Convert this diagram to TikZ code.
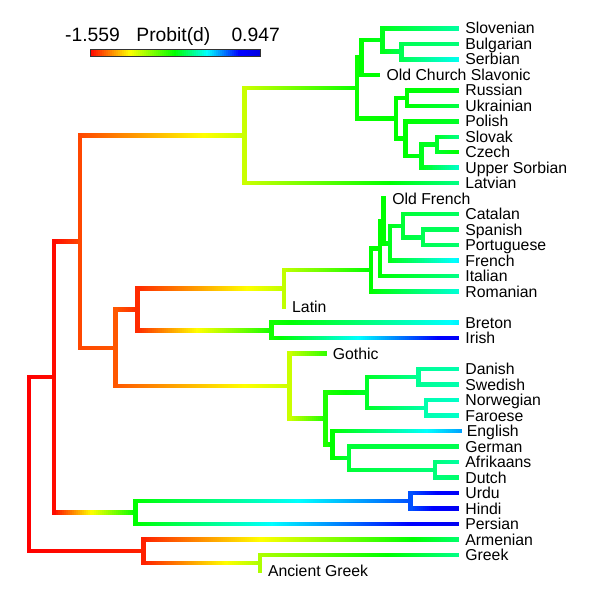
\documentclass[tikz,border=0pt]{standalone}
\usepackage{fontspec}
\setmainfont{Liberation Sans}
\newcommand{\setcmap}[1]{%
  \pgfmathsetmacro\cmv{max(0,min(1,#1))}%
  \pgfmathsetmacro\cmR{\cmv<0.235 ? 1 : (\cmv<0.5 ? (0.5-\cmv)/0.265 : 0)}%
  \pgfmathsetmacro\cmG{\cmv<0.235 ? \cmv/0.235 : (\cmv<0.69 ? 1 : (\cmv<0.88 ? (0.88-\cmv)/0.19 : 0))}%
  \pgfmathsetmacro\cmB{\cmv<0.5 ? 0 : (\cmv<0.69 ? (\cmv-0.5)/0.19 : (\cmv<0.9 ? 1 : 1-(\cmv-0.9)*1.2))}%
  \definecolor{segc}{rgb}{\cmR,\cmG,\cmB}%
}
\newcommand{\treenode}[4]{\coordinate (#1) at (#2,#3);\expandafter\gdef\csname nodev@#1\endcsname{#4}}
\newcommand{\leafnode}[6]{\treenode{#1}{#2}{#3}{#4}%
  \node[lab] (t-#1) at ([xshift=#6pt,yshift=-5.4pt]#1) {#5};}
\newcommand{\branch}[2]{%
  \pgfpointanchor{#1}{center}\pgfgetlastxy{\bpx}{\bpy}%
  \pgfpointanchor{#2}{center}\pgfgetlastxy{\bcx}{\bcy}%
  \edef\bva{\csname nodev@#1\endcsname}%
  \edef\bvb{\csname nodev@#2\endcsname}%
  \pgfmathsetmacro\blen{\bcx-\bpx}%
  \ifdim\blen pt>0.5pt
    \pgfmathtruncatemacro\bn{max(1,round(\blen/2))}%
    \pgfmathsetmacro\bdx{\blen/\bn}%
    \foreach \k in {1,...,\bn}{%
      \pgfmathsetmacro\xa{\bpx+(\k-1)*\bdx}%
      \pgfmathsetmacro\xb{min(\bpx+\k*\bdx+0.5,\bcx)}%
      \pgfmathsetmacro\vv{\bva+(\bvb-\bva)*(\k-0.5)/\bn}%
      \setcmap{\vv}%
      \draw[seg, draw=segc] (\xa pt,\bcy) -- (\xb pt,\bcy);
    }%
  \fi
}
\newcommand{\vbranch}[3]{%
  \edef\vvv{\csname nodev@#1\endcsname}%
  \setcmap{\vvv}%
  \draw[vseg, draw=segc] (#1 |- #2) -- (#1 |- #3);
}
\newcommand{\clade}[3]{\branch{#1}{#2}\branch{#1}{#3}\vbranch{#1}{#2}{#3}}
\tikzset{
  seg/.style={line width=4.5pt, line cap=butt},
  vseg/.style={line width=4.5pt, line cap=rect},
  lab/.style={anchor=base west, inner sep=0pt, font=\fontsize{15.8}{18}\selectfont},
  hdr/.style={anchor=base west, inner sep=0pt, font=\fontsize{19.3}{22}\selectfont},
}
\begin{document}
\begin{tikzpicture}[x=1pt,y=-1pt]
\useasboundingbox (0,0) rectangle (600,600);
\fill[white] (0,0) rectangle (600,600);
% leaves
\leafnode{slov}{459}{28.3}{.62}{Slovenian}{6.2}
\leafnode{bulg}{459}{43.8}{.59}{Bulgarian}{6.2}
\leafnode{serb}{459}{59.3}{.68}{Serbian}{6.2}
\leafnode{ocs}{380}{74.8}{.5}{Old Church Slavonic}{6.4}
\leafnode{russ}{459}{90.3}{.52}{Russian}{6.2}
\leafnode{ukr}{459}{105.8}{.55}{Ukrainian}{6.2}
\leafnode{pol}{459}{121.3}{.53}{Polish}{6.2}
\leafnode{slk}{459}{136.8}{.6}{Slovak}{6.2}
\leafnode{cze}{459}{152.2}{.5}{Czech}{6.2}
\leafnode{usorb}{459}{167.7}{.65}{Upper Sorbian}{6.2}
\leafnode{latv}{459}{183.2}{.6}{Latvian}{6.2}
\leafnode{ofr}{383.5}{198.7}{.5}{Old French}{8.6}
\leafnode{cat}{459}{214.2}{.57}{Catalan}{6.2}
\leafnode{spa}{459}{229.7}{.57}{Spanish}{6.2}
\leafnode{por}{459}{245.2}{.58}{Portuguese}{6.2}
\leafnode{fre}{459}{260.7}{.7}{French}{6.2}
\leafnode{ita}{459}{276.2}{.6}{Italian}{6.2}
\leafnode{rom}{459}{291.7}{.66}{Romanian}{6.2}
\leafnode{lat}{284.2}{307.2}{.3}{Latin}{7.8}
\leafnode{bre}{459}{322.7}{.7}{Breton}{6.2}
\leafnode{iri}{459}{338.2}{.93}{Irish}{6.2}
\leafnode{got}{326.7}{353.6}{.45}{Gothic}{6.0}
\leafnode{dan}{459}{369.1}{.63}{Danish}{6.2}
\leafnode{swe}{459}{384.6}{.63}{Swedish}{6.2}
\leafnode{nor}{459}{400.1}{.65}{Norwegian}{6.2}
\leafnode{far}{459}{415.6}{.65}{Faroese}{6.2}
\leafnode{eng}{461.5}{431.1}{.76}{English}{5.2}
\leafnode{ger}{459}{446.6}{.56}{German}{6.2}
\leafnode{afr}{459}{462.1}{.62}{Afrikaans}{6.2}
\leafnode{dut}{459}{477.6}{.58}{Dutch}{6.2}
\leafnode{urd}{459}{493.1}{.93}{Urdu}{6.2}
\leafnode{hin}{459}{508.6}{.95}{Hindi}{6.2}
\leafnode{per}{459}{524.1}{.95}{Persian}{6.2}
\leafnode{arm}{459}{539.6}{.58}{Armenian}{6.2}
\leafnode{gre}{459}{555.1}{.6}{Greek}{6.2}
\leafnode{agr}{260}{570.6}{.32}{Ancient Greek}{7.8}
% internal nodes
\treenode{nBuSe}{401.3}{51.55}{.56}
\treenode{nSS}{382.5}{39.9}{.52}
\treenode{nSA}{361.5}{57.35}{.5}
\treenode{nE}{407}{98.05}{.5}
\treenode{nCS}{437}{144.5}{.53}
\treenode{nCSS}{421.7}{156.1}{.52}
\treenode{nW}{405.5}{138.7}{.5}
\treenode{nEW}{396}{118.4}{.5}
\treenode{nSl}{357}{87.9}{.49}
\treenode{nBS}{244.5}{135.55}{.29}
\treenode{nSP}{423}{237.45}{.56}
\treenode{nCSP}{403}{225.8}{.54}
\treenode{nGI}{390}{243.25}{.52}
\treenode{nOF}{383.5}{220.98}{.5}
\treenode{nIt}{380}{248.6}{.5}
\treenode{nRom}{371}{270.15}{.5}
\treenode{nLR}{284.2}{288.7}{.3}
\treenode{nCelt}{271.7}{330.45}{.48}
\treenode{nD}{137.5}{309.6}{.04}
\treenode{nDS}{418.7}{376.85}{.61}
\treenode{nNF}{426}{407.85}{.63}
\treenode{nN}{367}{392.35}{.53}
\treenode{nAD}{435}{469.85}{.59}
\treenode{nGAD}{349}{458.2}{.54}
\treenode{nWG}{332.5}{444.65}{.5}
\treenode{nGp}{325.5}{418.5}{.47}
\treenode{nGerm}{289.5}{386.05}{.29}
\treenode{nC}{115.5}{347.8}{.08}
\treenode{nB}{80}{241.7}{.065}
\treenode{nUH}{410.5}{500.85}{.82}
\treenode{nII}{135.5}{512.5}{.5}
\treenode{nA}{54}{377.1}{.01}
\treenode{nGr}{260}{562.85}{.32}
\treenode{nAG}{143.5}{551.2}{.03}
\treenode{root}{29}{464.15}{0}
% tree, preorder
\clade{root}{nA}{nAG}
\clade{nA}{nB}{nII}
\clade{nB}{nBS}{nC}
\clade{nBS}{nSl}{latv}
\clade{nSl}{nSA}{nEW}
\clade{nSA}{nSS}{ocs}
\clade{nSS}{slov}{nBuSe}
\clade{nBuSe}{bulg}{serb}
\clade{nEW}{nE}{nW}
\clade{nE}{russ}{ukr}
\clade{nW}{pol}{nCSS}
\clade{nCSS}{nCS}{usorb}
\clade{nCS}{slk}{cze}
\clade{nC}{nD}{nGerm}
\clade{nD}{nLR}{nCelt}
\clade{nLR}{nRom}{lat}
\clade{nRom}{nIt}{rom}
\clade{nIt}{nOF}{ita}
\clade{nOF}{ofr}{nGI}
\clade{nGI}{nCSP}{fre}
\clade{nCSP}{cat}{nSP}
\clade{nSP}{spa}{por}
\clade{nCelt}{bre}{iri}
\clade{nGerm}{got}{nGp}
\clade{nGp}{nN}{nWG}
\clade{nN}{nDS}{nNF}
\clade{nDS}{dan}{swe}
\clade{nNF}{nor}{far}
\clade{nWG}{eng}{nGAD}
\clade{nGAD}{ger}{nAD}
\clade{nAD}{afr}{dut}
\clade{nII}{nUH}{per}
\clade{nUH}{urd}{hin}
\clade{nAG}{arm}{nGr}
\clade{nGr}{gre}{agr}
% colour bar
\foreach \k in {1,...,85}{%
  \pgfmathsetmacro\vv{(\k-0.5)/85}%
  \setcmap{\vv}%
  \draw[draw=segc, line width=7.5pt] ({90+(\k-1)*2},52.25) -- ({min(90+\k*2+0.5,260)},52.25);
}
\node[draw=black!80, line width=0.7pt, minimum width=170pt, minimum height=7.5pt, inner sep=0pt, anchor=north west] (cbar) at (90,48.5) {};
\node[hdr] (hmin) at (65,41.7) {-1.559};
\node[hdr] (hlab) at (136.2,41.7) {Probit(d)};
\node[hdr, anchor=base east] (hmax) at (280,41.7) {0.947};
\end{tikzpicture}
\end{document}
